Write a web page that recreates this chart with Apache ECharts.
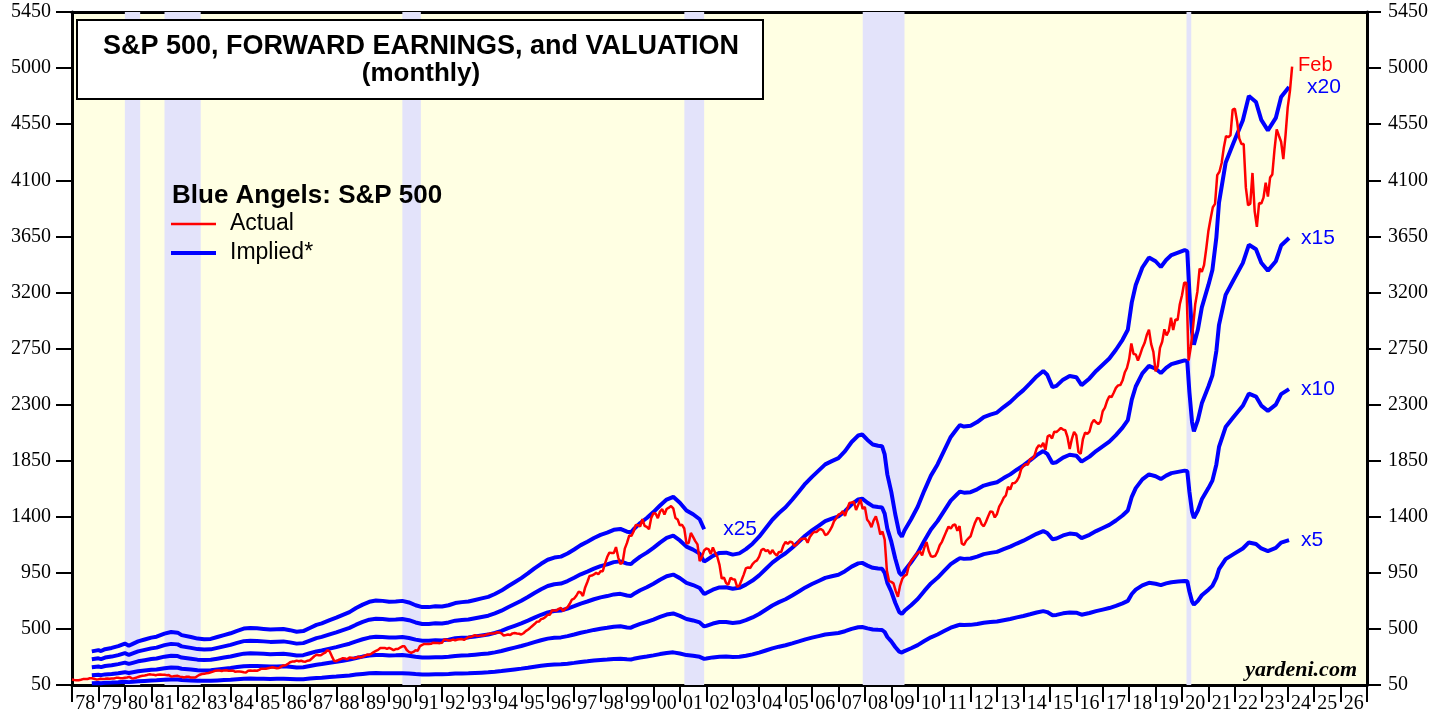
<!DOCTYPE html>
<html>
<head>
<meta charset="utf-8">
<script src="https://cdn.jsdelivr.net/npm/echarts@6/dist/echarts.min.js"></script>
<style>
html,body{margin:0;padding:0;background:#fff;}
#chart{width:1448px;height:717px;}
</style>
</head>
<body>
<div id="chart"></div>
<script>
// ---------------- DATA ----------------
// x-axis year labels (one per calendar year band)
const yearLabels = ['78','79','80','81','82','83','84','85','86','87','88','89','90','91','92','93','94','95','96','97','98','99','00','01','02','03','04','05','06','07','08','09','10','11','12','13','14','15','16','17','18','19','20','21','22','23','24','25','26'];
const yTicks = [50,500,950,1400,1850,2300,2750,3200,3650,4100,4550,5000,5450];

// S&P 500 monthly averages, Dec 1977 .. Feb 2024 (plotted at month end)
const spxMonthlyAvg = [
93.82,
90.3,88.98,88.82,92.71,97.41,97.66,97.19,103.92,103.86,100.58,94.71,96.11,
99.71,98.23,100.11,102.07,99.73,101.73,102.71,107.36,108.60,104.47,103.66,107.78,
110.87,115.34,104.69,102.97,107.69,114.55,119.83,123.50,126.51,130.22,135.65,133.48,
132.97,128.40,133.19,134.43,131.73,132.28,129.13,129.63,118.27,119.80,122.92,123.79,
117.28,114.50,110.84,116.31,116.35,109.70,109.38,109.65,122.43,132.66,138.10,139.37,
144.27,146.80,151.88,157.71,164.10,166.39,166.96,162.42,167.16,167.65,165.23,164.36,
166.39,157.25,157.44,157.60,156.55,153.12,151.08,164.42,166.11,164.82,166.27,164.48,
171.61,180.88,179.42,180.62,184.90,188.89,192.54,188.31,184.06,186.18,197.45,207.26,
208.19,219.37,232.33,237.98,238.46,245.30,240.18,245.00,238.27,237.36,245.09,248.61,
264.51,280.93,292.47,289.32,289.12,301.38,310.09,329.36,318.66,280.16,245.01,240.96,
250.48,258.13,265.74,262.61,256.20,270.68,269.05,263.73,267.97,277.40,271.02,276.51,
285.41,294.01,292.71,302.25,313.93,323.73,331.93,346.61,347.33,347.40,340.22,348.57,
339.97,330.45,338.47,338.18,350.25,360.39,360.03,330.75,315.41,307.12,315.29,328.75,
325.49,362.26,372.28,379.68,377.99,378.29,380.23,389.40,387.20,386.88,385.92,388.51,
416.08,412.56,407.36,407.41,414.81,408.27,415.05,417.93,418.48,412.50,422.84,435.64,
435.23,441.70,450.16,443.08,445.25,448.06,447.29,454.13,459.24,463.90,462.89,465.95,
472.99,471.58,463.81,447.23,450.90,454.83,451.40,464.24,466.96,463.81,461.01,455.19,
465.25,481.92,493.15,507.91,523.81,539.35,557.37,559.11,578.77,582.92,595.53,614.57,
614.42,649.54,647.07,647.17,661.23,668.50,644.07,662.68,674.88,701.46,735.67,743.25,
766.22,798.39,792.16,763.93,833.09,876.29,925.29,927.74,937.02,951.16,938.92,962.37,
963.36,1023.74,1076.83,1112.20,1108.42,1108.39,1156.58,1074.62,1020.64,1032.47,1144.43,1190.05,
1248.77,1246.58,1281.66,1334.76,1332.07,1322.55,1380.99,1327.49,1318.17,1300.01,1391.00,1428.68,
1425.59,1388.87,1442.21,1461.36,1418.48,1461.96,1473.00,1485.46,1468.05,1390.14,1378.04,1330.93,
1335.63,1305.75,1185.85,1189.84,1270.37,1238.71,1204.45,1178.50,1044.64,1076.59,1129.68,1144.93,
1140.21,1100.67,1153.79,1112.04,1079.27,1014.05,903.59,912.55,867.81,854.63,909.93,899.18,
895.84,837.62,846.62,890.03,935.96,988.00,992.54,989.53,1019.44,1038.73,1049.90,1080.64,
1132.52,1143.36,1123.98,1133.08,1102.78,1132.76,1105.85,1088.94,1117.66,1117.21,1168.94,1199.21,
1181.41,1199.63,1194.90,1164.42,1178.28,1202.26,1222.24,1224.27,1225.91,1191.96,1237.37,1262.07,
1278.72,1276.65,1293.74,1302.18,1290.00,1253.12,1260.24,1287.15,1317.81,1363.38,1388.63,1416.42,
1424.16,1444.79,1406.95,1463.65,1511.14,1514.49,1520.70,1454.62,1497.12,1539.66,1463.39,1479.23,
1378.76,1354.87,1316.94,1370.47,1403.22,1341.25,1257.33,1281.47,1216.95,968.80,883.04,877.56,
865.58,805.23,757.13,848.15,902.41,926.12,935.82,1009.73,1044.55,1067.66,1088.07,1110.38,
1123.58,1089.16,1152.05,1197.32,1125.06,1083.36,1079.80,1087.28,1122.08,1171.58,1198.89,1241.53,
1282.62,1321.12,1304.49,1331.51,1338.31,1287.29,1325.19,1185.31,1173.88,1207.22,1226.41,1243.32,
1300.58,1352.49,1389.24,1386.43,1341.27,1323.48,1359.78,1403.44,1443.42,1437.82,1394.51,1422.29,
1480.40,1512.31,1550.83,1570.70,1639.84,1618.77,1668.68,1670.09,1687.17,1720.03,1783.54,1807.78,
1822.36,1817.03,1863.52,1864.26,1889.77,1947.09,1973.10,1961.53,1993.23,1937.27,2044.57,2054.27,
2028.18,2082.20,2079.99,2094.86,2111.94,2099.29,2094.14,2039.87,1944.41,2024.81,2080.62,2054.08,
1918.60,1904.42,2021.95,2075.54,2065.55,2083.89,2148.90,2177.48,2157.69,2143.02,2164.99,2246.63,
2275.12,2329.91,2366.82,2359.31,2395.35,2433.99,2454.10,2456.22,2492.84,2557.00,2593.61,2664.34,
2789.80,2705.16,2702.77,2653.63,2701.49,2754.35,2793.64,2857.82,2901.50,2785.46,2723.23,2567.31,
2607.39,2754.86,2803.98,2903.80,2854.71,2890.17,2996.11,2897.50,2982.16,2977.68,3104.90,3176.75,
3278.20,3277.31,2652.39,2761.98,2919.62,3104.66,3207.62,3391.71,3365.52,3418.70,3548.99,3695.31,
3793.75,3883.43,3910.51,4141.18,4167.85,4238.49,4363.71,4454.21,4445.54,4460.71,4667.39,4674.77,
4573.82,4435.98,4391.27,4391.30,4040.36,3898.95,3911.74,4158.56,3850.52,3726.05,3917.49,3912.38,
3960.66,4079.68,3968.56,4121.47,4146.17,4345.37,4508.08,4457.36,4409.10,4269.40,4460.06,4685.05,
4815.61,5011.96
];
const spxFirstYear = 1978; // first value (Dec 1977 avg) sits at start of 1978

// S&P 500 forward earnings per share, [decimal year, $]
const fwdEarnings = [
[1978.75,12.8],[1979.0,13.2],[1979.1,12.9],[1979.25,13.5],[1979.5,13.9],[1979.75,14.5],
[1980.0,15.3],[1980.15,14.6],[1980.3,15.2],[1980.5,16.0],[1980.75,16.6],
[1981.0,17.2],[1981.2,17.5],[1981.27,17.3],[1981.5,18.5],[1981.75,19.0],
[1982.0,18.8],[1982.15,18.0],[1982.5,17.4],[1982.75,16.9],
[1983.0,16.7],[1983.25,16.8],[1983.5,17.4],[1983.75,18.0],
[1984.0,18.6],[1984.25,19.4],[1984.5,20.1],[1984.75,20.3],
[1985.0,20.2],[1985.25,20.0],[1985.5,19.8],[1985.75,19.9],
[1986.0,20.0],[1986.25,19.6],[1986.5,19.1],[1986.75,19.3],
[1987.0,20.3],[1987.25,21.3],[1987.45,21.8],[1987.5,22.2],[1987.75,22.8],
[1988.0,23.6],[1988.25,24.5],[1988.5,25.4],[1988.75,26.7],
[1989.0,27.8],[1989.25,28.7],[1989.5,29.1],[1989.75,29.0],
[1990.0,28.7],[1990.25,28.8],[1990.5,29.0],[1990.75,28.5],
[1991.0,27.6],[1991.25,27.0],[1991.5,27.0],[1991.75,27.3],
[1992.0,27.2],[1992.25,27.6],[1992.5,28.3],[1992.75,28.6],
[1993.0,28.8],[1993.25,29.3],[1993.5,29.8],[1993.75,30.3],
[1994.0,31.2],[1994.25,32.3],[1994.5,33.7],[1994.75,35.0],
[1995.0,36.3],[1995.25,37.8],[1995.5,39.4],[1995.75,40.9],
[1996.0,42.2],[1996.25,42.9],[1996.5,43.2],[1996.75,44.2],
[1997.0,45.5],[1997.25,46.9],[1997.5,48.0],[1997.75,49.2],
[1998.0,50.2],[1998.25,50.9],[1998.5,51.8],[1998.75,52.1],
[1999.0,51.2],[1999.15,51.0],[1999.25,52.0],[1999.5,54.0],[1999.75,55.6],
[2000.0,57.5],[2000.25,59.6],[2000.5,61.5],[2000.75,62.4],
[2001.0,60.5],[2001.25,58.0],[2001.5,56.8],[2001.75,55.2],[2001.92,52.0],
[2002.0,52.5],[2002.25,54.3],[2002.5,55.5],[2002.75,55.6],
[2003.0,54.8],[2003.25,55.3],[2003.5,57.0],[2003.75,59.2],
[2004.0,62.0],[2004.25,65.4],[2004.5,68.8],[2004.75,71.5],
[2005.0,73.8],[2005.25,76.8],[2005.5,80.0],[2005.75,83.3],
[2006.0,86.0],[2006.25,88.5],[2006.5,91.0],[2006.75,92.3],
[2007.0,93.5],[2007.25,96.3],[2007.5,100.0],[2007.75,102.6],[2007.9,103.0],
[2008.1,100.8],[2008.3,99.0],[2008.5,98.5],[2008.65,98.3],[2008.75,95.0],[2008.85,87.0],
[2009.0,80.0],[2009.15,71.0],[2009.3,63.5],[2009.4,62.0],[2009.5,64.5],[2009.75,69.0],
[2010.0,74.0],[2010.25,80.5],[2010.5,86.5],[2010.75,91.0],
[2011.0,96.5],[2011.25,102.0],[2011.5,105.5],[2011.6,106.8],[2011.75,106.2],
[2012.0,106.5],[2012.25,108.0],[2012.5,110.0],[2012.75,111.0],
[2013.0,111.8],[2013.25,114.0],[2013.5,116.0],[2013.75,118.5],
[2014.0,120.8],[2014.25,123.5],[2014.5,126.3],[2014.75,128.5],[2014.9,127.0],
[2015.1,122.0],[2015.25,122.5],[2015.5,125.0],[2015.75,126.5],
[2016.0,126.0],[2016.2,122.8],[2016.5,125.5],[2016.75,128.5],
[2017.0,131.0],[2017.25,133.5],[2017.5,137.0],[2017.75,141.0],[2017.95,145.0],
[2018.1,156.0],[2018.25,163.0],[2018.5,170.0],[2018.75,174.0],
[2019.0,172.5],[2019.2,170.2],[2019.4,173.0],[2019.6,175.0],[2019.85,176.0],
[2020.1,177.0],[2020.2,176.5],[2020.28,160.0],[2020.38,144.0],[2020.45,139.0],[2020.6,145.0],[2020.75,154.0],
[2021.0,163.0],[2021.15,169.0],[2021.3,182.0],[2021.4,196.0],[2021.65,212.0],[2021.95,220.0],
[2022.3,229.0],[2022.53,238.8],[2022.6,238.0],[2022.8,236.4],
[2023.0,229.2],[2023.25,225.0],[2023.55,230.0],[2023.75,238.4],[2024.05,242.4]
];

// valuation multiples for the "Blue Angels" implied lines
const multiples = [5, 10, 15, 20, 25];
const multipleLabels = ['x5', 'x10', 'x15', 'x20', 'x25'];
const x25LastYear = 2001.92;

// recessions [start, end] in decimal years
const recessions = [
[1980.0,1980.58],[1981.5,1982.87],[1990.5,1991.2],[2001.17,2001.92],[2007.92,2009.5],[2020.17,2020.35]
];

// ---------------- CHART ----------------
const chart = echarts.init(document.getElementById('chart'));
const SERIF = '"Liberation Serif", "Times New Roman", serif';
const SANS = '"Liberation Sans", Arial, sans-serif';

const spxData = spxMonthlyAvg.map((v, i) => [spxFirstYear + i / 12, v]);

const impliedSeries = multiples.map((k, idx) => {
  const pts = fwdEarnings
    .filter(p => k !== 25 || p[0] <= x25LastYear)
    .map(p => [p[0], +(p[1] * k).toFixed(1)]);
  const dist = k === 20 ? 18 : (k === 25 ? 19 : 12);
  return {
    name: 'Implied*',
    type: 'line',
    xAxisIndex: 1,
    yAxisIndex: 0,
    data: pts,
    showSymbol: false,
    symbol: 'none',
    smooth: false,
    lineStyle: { color: '#0000FF', width: 4 },
    z: 3,
    silent: true,
    endLabel: {
      show: true,
      formatter: multipleLabels[idx],
      color: '#0000FF',
      fontFamily: SANS,
      fontSize: 21,
      distance: dist
    }
  };
});

const plainNum = v => String(v);

const option = {
  animation: false,
  backgroundColor: '#ffffff',
  grid: {
    left: 72, right: 81, top: 12, bottom: 32,
    show: true, backgroundColor: '#FFFFE3', borderWidth: 0
  },
  xAxis: [
    {
      type: 'category',
      data: yearLabels,
      boundaryGap: true,
      position: 'bottom',
      axisLine: { show: true, lineStyle: { color: '#000', width: 3 } },
      axisTick: { show: true, interval: 0, length: 17, inside: false, lineStyle: { color: '#000', width: 2 } },
      axisLabel: { interval: 0, margin: 9, fontFamily: SERIF, fontSize: 20, color: '#000' },
      splitLine: { show: false }
    },
    {
      type: 'value', min: 1978, max: 2027, show: false,
      splitLine: { show: false }
    },
    {
      type: 'value', min: 1978, max: 2027, position: 'top',
      axisLine: { show: true, onZero: false, lineStyle: { color: '#000', width: 3 } },
      axisTick: { show: false }, axisLabel: { show: false }, splitLine: { show: false }
    }
  ],
  yAxis: [
    {
      type: 'value', min: 50, max: 5450, position: 'left',
      axisLine: { show: true, lineStyle: { color: '#000', width: 3 } },
      axisTick: { show: true, length: 16, customValues: yTicks, lineStyle: { color: '#000', width: 2 } },
      axisLabel: { customValues: yTicks, formatter: plainNum, margin: 21, fontFamily: SERIF, fontSize: 20, color: '#000' },
      splitLine: { show: false }
    },
    {
      type: 'value', min: 50, max: 5450, position: 'right',
      axisLine: { show: true, lineStyle: { color: '#000', width: 3 } },
      axisTick: { show: true, length: 14, customValues: yTicks, lineStyle: { color: '#000', width: 2 } },
      axisLabel: { customValues: yTicks, formatter: plainNum, margin: 21, fontFamily: SERIF, fontSize: 20, color: '#000' },
      splitLine: { show: false }
    }
  ],
  series: [
    {
      name: 'recessions',
      type: 'line',
      xAxisIndex: 1,
      yAxisIndex: 0,
      data: [],
      silent: true,
      z: 1,
      markArea: {
        silent: true,
        itemStyle: { color: '#E3E3FA' },
        data: recessions.map(r => [{ xAxis: r[0] }, { xAxis: r[1] }])
      }
    },
    ...impliedSeries,
    {
      name: 'Actual',
      type: 'line',
      xAxisIndex: 1,
      yAxisIndex: 0,
      data: spxData,
      showSymbol: false,
      symbol: 'none',
      lineStyle: { color: '#FF0000', width: 2.5 },
      z: 4,
      silent: true,
      endLabel: {
        show: true,
        formatter: 'Feb',
        color: '#FF0000',
        fontFamily: SANS,
        fontSize: 20,
        distance: 6,
        offset: [0, -1]
      }
    }
  ],
  graphic: [
    {
      type: 'rect', z: 100,
      shape: { x: 77, y: 20, width: 686, height: 79 },
      style: { fill: '#ffffff', stroke: '#000', lineWidth: 2 }
    },
    {
      type: 'text', z: 101, x: 421, y: 47,
      style: { text: 'S&P 500, FORWARD EARNINGS, and VALUATION', font: 'bold 27px ' + SANS, fill: '#000',
               textAlign: 'center', textVerticalAlign: 'middle', align: 'center', verticalAlign: 'middle' }
    },
    {
      type: 'text', z: 101, x: 421, y: 74,
      style: { text: '(monthly)', font: 'bold 26px ' + SANS, fill: '#000',
               textAlign: 'center', textVerticalAlign: 'middle', align: 'center', verticalAlign: 'middle' }
    },
    {
      type: 'text', z: 101, x: 172, y: 196,
      style: { text: 'Blue Angels: S&P 500', font: 'bold 26px ' + SANS, fill: '#000',
               textAlign: 'left', textVerticalAlign: 'middle', align: 'left', verticalAlign: 'middle' }
    },
    {
      type: 'line', z: 101,
      shape: { x1: 171, y1: 224, x2: 216, y2: 224 },
      style: { stroke: '#FF0000', lineWidth: 2.5 }
    },
    {
      type: 'text', z: 101, x: 230, y: 224,
      style: { text: 'Actual', font: '23px ' + SANS, fill: '#000',
               textAlign: 'left', textVerticalAlign: 'middle', align: 'left', verticalAlign: 'middle' }
    },
    {
      type: 'line', z: 101,
      shape: { x1: 171, y1: 253, x2: 216, y2: 253 },
      style: { stroke: '#0000FF', lineWidth: 4 }
    },
    {
      type: 'text', z: 101, x: 230, y: 253,
      style: { text: 'Implied*', font: '23px ' + SANS, fill: '#000',
               textAlign: 'left', textVerticalAlign: 'middle', align: 'left', verticalAlign: 'middle' }
    },
    {
      type: 'text', z: 101, x: 1357, y: 670,
      style: { text: 'yardeni.com', font: 'bold italic 22px ' + SERIF, fill: '#000',
               textAlign: 'right', textVerticalAlign: 'middle', align: 'right', verticalAlign: 'middle' }
    }
  ]
};
chart.setOption(option);
</script>
</body>
</html>
